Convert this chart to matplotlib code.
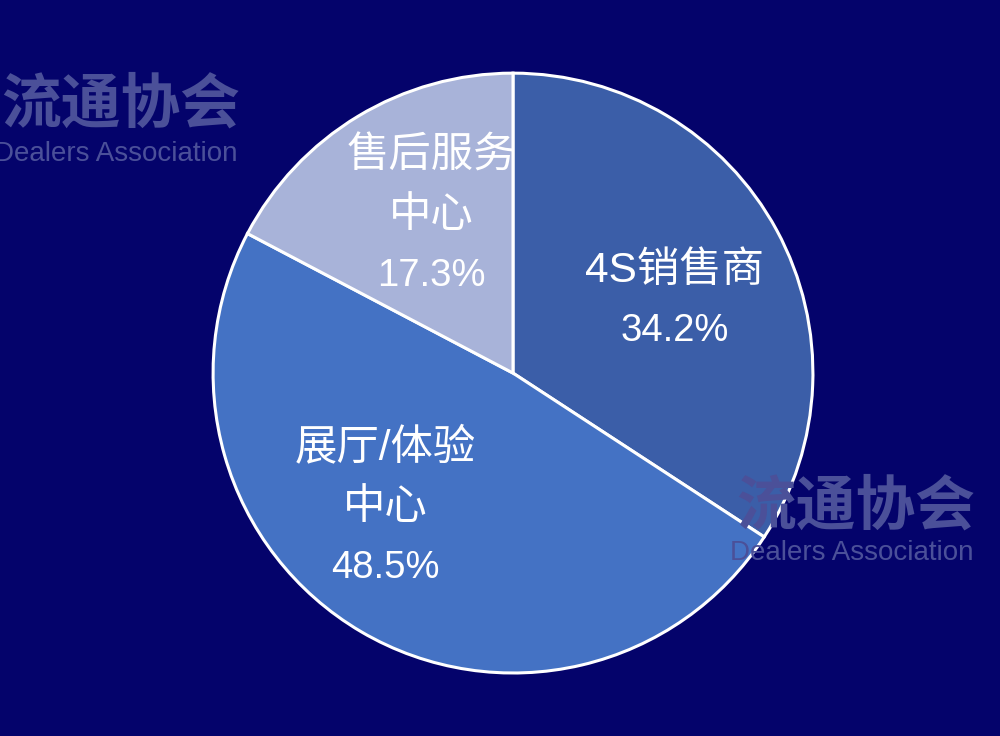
import matplotlib
matplotlib.use("Agg")
import matplotlib.pyplot as plt
import numpy as np

categories = ["4S销售商", "展厅/体验\n中心", "售后服务\n中心"]
values = [34.2, 48.5, 17.3]
colors = ["#3b5ea8", "#4472c4", "#a8b3d9"]

plt.rcParams['font.family'] = ['Liberation Sans', 'Noto Sans CJK SC', 'DejaVu Sans']

BG = "#04036b"
fig = plt.figure(figsize=(10, 7.36), dpi=100, facecolor=BG)

# watermarks (behind the pie)
wm_color = "#4b5099"
wm_cjk = ["Noto Sans CJK SC", "DejaVu Sans"]
fig.text(0.240, 0.856, "流通协会", ha="right", va="center", fontsize=43,
         color=wm_color, fontweight="bold", family=wm_cjk, zorder=0)
fig.text(0.238, 0.791, "Dealers Association", ha="right", va="center", fontsize=20,
         color=wm_color, zorder=0)
fig.text(0.975, 0.310, "流通协会", ha="right", va="center", fontsize=43,
         color=wm_color, fontweight="bold", family=wm_cjk, zorder=0)
fig.text(0.973, 0.249, "Dealers Association", ha="right", va="center", fontsize=20,
         color=wm_color, zorder=0)

ax = fig.add_axes([0.213, 0.0856, 0.6, 0.815])
ax.set_facecolor("none")
ax.patch.set_alpha(0)
wedges, _ = ax.pie(values, colors=colors, startangle=90, counterclock=False,
                   radius=1.0,
                   wedgeprops=dict(edgecolor="white", linewidth=2.2))
for w in wedges:
    w.set_clip_on(False)
ax.set_xlim(-1, 1)
ax.set_ylim(-1, 1)
ax.set_aspect("equal")
ax.axis("off")

# label anchors (layout only): distance from centre and angular shift
label_dist = [0.59, 0.62, 0.59]
label_ang_shift = [-4.5, -13.0, -3.5]
line_step = 0.2  # in radius units (~60 px)
for w, cat, v, d, sh in zip(wedges, categories, values, label_dist, label_ang_shift):
    mid = np.deg2rad((w.theta1 + w.theta2) / 2 + sh)
    x, y = d * np.cos(mid), d * np.sin(mid)
    lines = cat.split("\n") + [f"{v:.1f}%"]
    n = len(lines)
    for i, ln in enumerate(lines):
        yy = y + ((n - 1) / 2 - i) * line_step
        is_pct = ln.endswith("%")
        ax.text(x, yy, ln, ha="center", va="center", color="white",
                fontsize=27.5 if is_pct else 30.5)

fig.savefig("out.png", dpi=100, facecolor=BG)
